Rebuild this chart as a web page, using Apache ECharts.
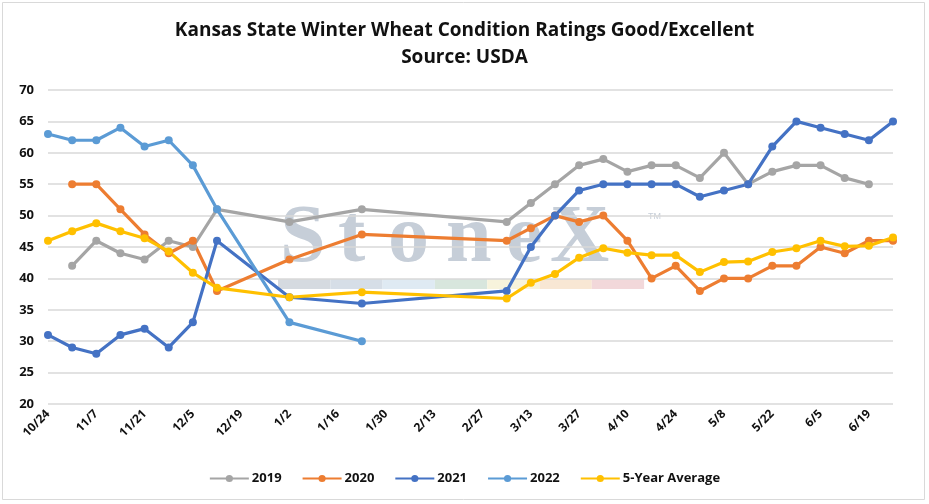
<!DOCTYPE html>
<html><head><meta charset="utf-8">
<script src="https://cdn.jsdelivr.net/npm/echarts@6/dist/echarts.min.js"></script>
<style>html,body{margin:0;padding:0;background:#fff}#c{width:929px;height:504px}</style>
</head><body><div id="c"></div>
<script>
const weeks = ['10/24','10/31','11/7','11/14','11/21','11/28','12/5','12/12','12/19','12/26','1/2','1/9','1/16','1/23','1/30','2/6','2/13','2/20','2/27','3/6','3/13','3/20','3/27','4/3','4/10','4/17','4/24','5/1','5/8','5/15','5/22','5/29','6/5','6/12','6/19','6/26'];
const s2019 = [null,42,46,44,43,46,45,51,null,null,49,null,null,51,null,null,null,null,null,49,52,55,58,59,57,58,58,56,60,55,57,58,58,56,55,null];
const s2020 = [null,55,55,51,47,44,46,38,null,null,43,null,null,47,null,null,null,null,null,46,48,50,49,50,46,40,42,38,40,40,42,42,45,44,46,46];
const s2021 = [31,29,28,31,32,29,33,46,null,null,37,null,null,36,null,null,null,null,null,38,45,50,54,55,55,55,55,53,54,55,61,65,64,63,62,65];
const s2022 = [63,62,62,64,61,62,58,51,null,null,33,null,null,30,null,null,null,null,null,null,null,null,null,null,null,null,null,null,null,null,null,null,null,null,null,null];
const avg5 = [46,47.5,48.8,47.5,46.4,44.3,40.9,38.5,null,null,37,null,null,37.8,null,null,null,null,null,36.8,39.3,40.7,43.3,44.8,44.1,43.7,43.7,41,42.6,42.7,44.2,44.8,46,45.1,45.2,46.5];
const yTicks = {min:20, max:70, interval:5};

const seriesDefs = [
  {name:'2019', data:s2019, color:'#A5A5A5'},
  {name:'2020', data:s2020, color:'#ED7D31'},
  {name:'2021', data:s2021, color:'#4472C4'},
  {name:'2022', data:s2022, color:'#5B9BD5'},
  {name:'5-Year Average', data:avg5, color:'#FFC000'}
];
const font = '"Open Sans", Lato, sans-serif';
const wmColor = '#c6ced8';
const letters = [['S',280],['t',338],['o',388],['n',446],['e',506],['X',550]];
const strip = ['#d5dae0','#d6dee7','#dfeaf3','#d8e6dd','#f7f3dc','#f8e7d4','#f2d8da'];

const chart = echarts.init(document.getElementById('c'), null, {renderer:'canvas'});
chart.setOption({
  animation:false,
  backgroundColor:'#fff',
  title:{
    text:'Kansas State Winter Wheat Condition Ratings Good/Excellent\nSource: USDA',
    left:'center', top:12,
    textStyle:{fontFamily:font, fontWeight:'bold', fontSize:19, color:'#111', lineHeight:27}
  },
  graphic:[
    {type:'rect', shape:{x:2.5,y:2.5,width:922,height:497}, style:{fill:null, stroke:'#d9d9d9', lineWidth:1}, z:-10, silent:true},
    ...letters.map(([ch,x]) => ({type:'text', x:x, y:199, z:-5, silent:true,
      style:{text:ch, fill:wmColor, fontSize:82, fontWeight:'bold', fontFamily:'"Liberation Serif", "DejaVu Serif", serif'}})),
    {type:'text', x:648, y:212, z:-5, silent:true, style:{text:'TM', fill:wmColor, fontSize:9, fontFamily:'sans-serif'}},
    ...strip.map((c,i) => ({type:'rect', z:-5, silent:true, shape:{x:278+i*52.3, y:279, width:52.3, height:10}, style:{fill:c}}))
  ],
  grid:{left:48, right:36, top:90, bottom:100, containLabel:false},
  xAxis:{
    type:'category', data:weeks, boundaryGap:false,
    axisLine:{show:false}, axisTick:{show:false},
    axisLabel:{interval:1, rotate:45, fontFamily:font, fontWeight:'bold', fontSize:12, color:'#111', margin:8}
  },
  yAxis:{
    type:'value', min:yTicks.min, max:yTicks.max, interval:yTicks.interval,
    axisLine:{show:false}, axisTick:{show:false},
    axisLabel:{fontFamily:font, fontWeight:'bold', fontSize:13, color:'#111', margin:14},
    splitLine:{lineStyle:{color:'#d9d9d9', width:1.5}}
  },
  legend:{
    bottom:14, left:'center', itemWidth:39, itemHeight:9, itemGap:20,
    textStyle:{fontFamily:font, fontWeight:'bold', fontSize:13, color:'#111', padding:[0,0,0,-2]},
    data:seriesDefs.map(s=>s.name)
  },
  series:seriesDefs.map(s=>({
    name:s.name, type:'line', data:s.data, connectNulls:true,
    symbol:'circle', symbolSize:8, showAllSymbol:true,
    lineStyle:{color:s.color, width:3.2},
    itemStyle:{color:s.color}
  }))
});
</script></body></html>
